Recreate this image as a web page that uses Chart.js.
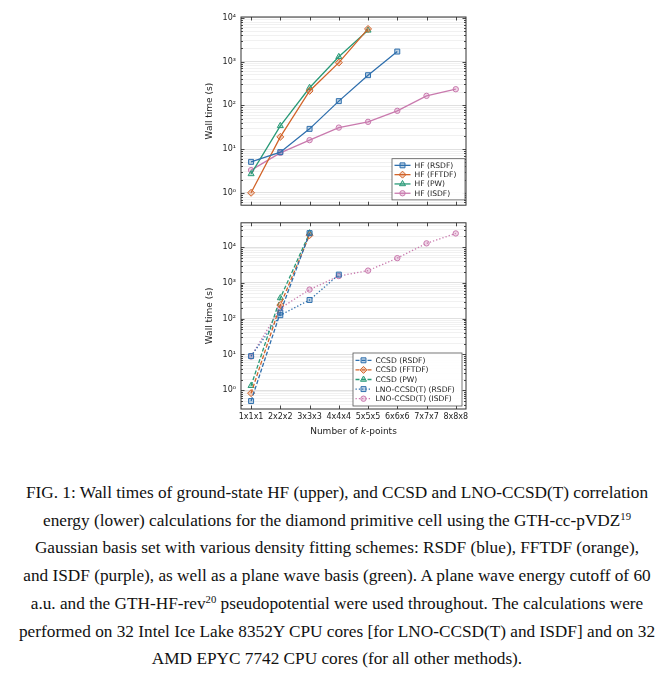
<!DOCTYPE html>
<html>
<head>
<meta charset="utf-8">
<script src="https://cdn.jsdelivr.net/npm/chart.js@4.4.0/dist/chart.umd.min.js"></script>
<style>
  body { margin: 0; background: #fff; width: 660px; height: 680px; position: relative; overflow: hidden; }
  #topChart { position: absolute; left: 0; top: 0; }
  #bottomChart { position: absolute; left: 0; top: 213px; }
  #caption { position: absolute; left: 7px; top: 479px; width: 660px; text-align: center;
    font-family: "Liberation Serif", "DejaVu Serif", serif; font-size: 16px; line-height: 27.7px; color: #111; }
  #caption span { white-space: nowrap; }
  #caption sup { font-size: 0.62em; line-height: 0; vertical-align: 0.55em; }
</style>
</head>
<body>
<canvas id="topChart" width="660" height="215"></canvas>
<canvas id="bottomChart" width="660" height="240"></canvas>
<div id="caption">
  <span id="firstLine">FIG. 1: Wall times of ground-state HF (upper), and CCSD and LNO-CCSD(T) correlation</span><br>
  <span>energy (lower) calculations for the diamond primitive cell using the GTH-cc-pVDZ<sup>19</sup></span><br>
  <span>Gaussian basis set with various density fitting schemes: RSDF (blue), FFTDF (orange),</span><br>
  <span>and ISDF (purple), as well as a plane wave basis (green). A plane wave energy cutoff of 60</span><br>
  <span>a.u. and the GTH-HF-rev<sup>20</sup> pseudopotential were used throughout. The calculations were</span><br>
  <span>performed on 32 Intel Ice Lake 8352Y CPU cores [for LNO-CCSD(T) and ISDF] and on 32</span><br>
  <span>AMD EPYC 7742 CPU cores (for all other methods).</span>
</div>
<script>
// k-point meshes (shared x axis)
const kLabels = ['1x1x1', '2x2x2', '3x3x3', '4x4x4', '5x5x5', '6x6x6', '7x7x7', '8x8x8'];

// HF wall times (s), upper panel
const hfRsdf = [5.1, 8.5, 29, 125, 490, 1700];
const hfFftdf = [1.0, 19, 214, 950, 5600];
const hfPw = [2.7, 34, 253, 1290, 5200];
const hfIsdf = [3.3, 8.2, 16, 31, 42, 75, 165, 234];

// correlated wall times (s), lower panel
const ccsdRsdf = [0.5, 148, 24500];
const ccsdFftdf = [0.83, 240, 21500];
const ccsdPw = [1.34, 378, 24500];
const lnoRsdf = [9.0, 125, 333, 1700];
const lnoIsdf = [8.8, 195, 650, 1550, 2200, 4900, 12700, 24000];

const blue = '#2f6fad', orange = '#d2642a', green = '#2a9a78', pink = '#c97aae';
const SUP = '⁰¹²³⁴⁵⁶⁷⁸⁹';
const FONT = 'DejaVu Sans';

function isDecade(v) {
  if (!v || v <= 0) return false;
  const l = Math.log10(v);
  return Math.abs(l - Math.round(l)) < 1e-9;
}

function logTicks(min, max) {
  const out = [];
  for (let e = Math.floor(Math.log10(min)); e <= Math.ceil(Math.log10(max)); e++) {
    for (let m = 1; m < 10; m++) {
      const v = m * Math.pow(10, e);
      if (v > min && v < max) out.push(v);
    }
  }
  return out;
}

function fade(hex) {
  const n = parseInt(hex.slice(1), 16);
  return `rgba(${n >> 16},${(n >> 8) & 255},${n & 255},0.3)`;
}

function series(label, values, color, marker, dash) {
  return {
    label: label,
    data: values.map((v, i) => ({ x: i, y: v })),
    borderColor: color,
    backgroundColor: fade(color),
    borderWidth: 1.3,
    borderDash: dash,
    pointStyle: marker,
    pointRadius: marker === 'circle' ? 2.7 : 3.5,
    pointBorderWidth: 1,
    pointBackgroundColor: fade(color),
    pointBorderColor: color,
    tension: 0,
    fill: false
  };
}

function xScale(showLabels) {
  return {
    type: 'linear',
    min: -0.345,
    max: 7.35,
    afterBuildTicks: s => { s.ticks = kLabels.map((_, i) => ({ value: i })); },
    afterFit: s => { s.height = showLabels ? 44 : 0; },
    grid: { display: false, drawTicks: false },
    border: { display: false },
    ticks: {
      display: showLabels, autoSkip: false, maxRotation: 0, padding: 3.5,
      color: '#222', font: { family: FONT, size: 8 },
      callback: v => kLabels[v] || ''
    }
  };
}

function yScale(min, max) {
  return {
    type: 'logarithmic',
    min: min,
    max: max,
    afterBuildTicks: s => { s.ticks = logTicks(min, max).map(v => ({ value: v })); },
    afterFit: s => { s.width = 41; },
    grid: {
      drawTicks: false,
      lineWidth: 0.8,
      color: ctx => (ctx.tick && isDecade(ctx.tick.value)) ? '#d8d8d8' : '#eeeeee'
    },
    border: { display: false },
    ticks: {
      autoSkip: false, padding: 5, color: '#222', font: { family: FONT, size: 8 },
      callback: v => isDecade(v) ? '10' + SUP[Math.round(Math.log10(v))] : ''
    },
    title: {
      display: true, text: 'Wall time (s)', color: '#222',
      font: { family: FONT, size: 9 }, padding: { top: 4, bottom: 0 }
    }
  };
}

// axes frame with inward ticks on all four sides
const framePlugin = {
  id: 'frame',
  afterDraw(chart) {
    const { ctx, chartArea: a } = chart;
    const x = chart.scales.x, y = chart.scales.y;
    ctx.save();
    ctx.strokeStyle = '#333';
    ctx.lineWidth = 0.9;
    ctx.beginPath();
    x.ticks.forEach(t => {
      const px = Math.round(x.getPixelForValue(t.value)) + 0.5;
      ctx.moveTo(px, a.bottom); ctx.lineTo(px, a.bottom - 3.5);
      ctx.moveTo(px, a.top); ctx.lineTo(px, a.top + 3.5);
    });
    y.ticks.forEach(t => {
      const py = Math.round(y.getPixelForValue(t.value)) + 0.5;
      const len = isDecade(t.value) ? 3.5 : 2;
      ctx.moveTo(a.left, py); ctx.lineTo(a.left + len, py);
      ctx.moveTo(a.right, py); ctx.lineTo(a.right - len, py);
    });
    ctx.stroke();
    ctx.lineWidth = 1;
    ctx.strokeRect(a.left, a.top, a.right - a.left, a.bottom - a.top);
    ctx.restore();
  }
};

// boxed legend in lower right with line + marker samples
const boxLegend = {
  id: 'boxLegend',
  afterDraw(chart, args, opts) {
    const { ctx, chartArea: a } = chart;
    const sets = chart.data.datasets;
    const w = opts.width, rowH = opts.rowHeight, padV = opts.padV;
    const h = sets.length * rowH + 2 * padV;
    const bx = a.right - opts.right - w, by = a.bottom - opts.bottom - h;
    ctx.save();
    ctx.fillStyle = 'rgba(255,255,255,0.92)';
    ctx.fillRect(bx, by, w, h);
    ctx.strokeStyle = '#555';
    ctx.lineWidth = 0.8;
    ctx.strokeRect(bx, by, w, h);
    ctx.font = opts.fontSize + 'px "' + FONT + '"';
    ctx.textBaseline = 'middle';
    sets.forEach((d, i) => {
      const cy = by + padV + rowH * (i + 0.5);
      const x0 = bx + 2.5, x1 = x0 + 16;
      ctx.strokeStyle = d.borderColor;
      ctx.lineWidth = d.borderWidth;
      ctx.setLineDash(d.borderDash || []);
      ctx.beginPath(); ctx.moveTo(x0, cy); ctx.lineTo(x1, cy); ctx.stroke();
      ctx.setLineDash([]);
      ctx.fillStyle = d.pointBackgroundColor;
      ctx.lineWidth = 1;
      Chart.helpers.drawPoint(ctx, { pointStyle: d.pointStyle, radius: d.pointRadius, borderWidth: 1, rotation: 0 }, (x0 + x1) / 2, cy);
      ctx.fillStyle = '#222';
      ctx.fillText(d.label, x1 + 4, cy + 0.5);
    });
    ctx.restore();
  }
};

// x title with italic k
const xTitle = {
  id: 'xTitle',
  afterDraw(chart) {
    const { ctx, chartArea: a } = chart;
    const parts = [['Number of ', ''], ['k', 'italic '], ['-points', '']];
    ctx.save();
    ctx.fillStyle = '#222';
    ctx.textBaseline = 'middle';
    let total = 0;
    parts.forEach(p => { ctx.font = p[1] + '9px "' + FONT + '"'; total += ctx.measureText(p[0]).width; });
    let cx = (a.left + a.right) / 2 - total / 2;
    parts.forEach(p => {
      ctx.font = p[1] + '9px "' + FONT + '"';
      ctx.fillText(p[0], cx, a.bottom + 23);
      cx += ctx.measureText(p[0]).width;
    });
    ctx.restore();
  }
};

function initializeCharts() {
  new Chart(document.getElementById('topChart'), {
    type: 'line',
    data: {
      datasets: [
        series('HF (RSDF)', hfRsdf, blue, 'rect', []),
        series('HF (FFTDF)', hfFftdf, orange, 'rectRot', []),
        series('HF (PW)', hfPw, green, 'triangle', []),
        series('HF (ISDF)', hfIsdf, pink, 'circle', [])
      ]
    },
    options: {
      responsive: false,
      animation: false,
      layout: { padding: { left: 200, right: 194, top: 17, bottom: 7 } },
      scales: { x: xScale(false), y: yScale(0.52, 10500) },
      plugins: {
        legend: { display: false },
        tooltip: { enabled: false },
        boxLegend: { width: 73, rowHeight: 9.3, padV: 2, right: 1, bottom: 5.3, fontSize: 7.6 }
      }
    },
    plugins: [framePlugin, boxLegend]
  });

  new Chart(document.getElementById('bottomChart'), {
    type: 'line',
    data: {
      datasets: [
        series('CCSD (RSDF)', ccsdRsdf, blue, 'rect', [4, 2]),
        series('CCSD (FFTDF)', ccsdFftdf, orange, 'rectRot', [4, 2]),
        series('CCSD (PW)', ccsdPw, green, 'triangle', [4, 2]),
        series('LNO-CCSD(T) (RSDF)', lnoRsdf, blue, 'rect', [1.3, 2]),
        series('LNO-CCSD(T) (ISDF)', lnoIsdf, pink, 'circle', [1.3, 2])
      ]
    },
    options: {
      responsive: false,
      animation: false,
      layout: { padding: { left: 200, right: 194, top: 4.7, bottom: 0 } },
      scales: { x: xScale(true), y: yScale(0.31, 47600) },
      plugins: {
        legend: { display: false },
        tooltip: { enabled: false },
        boxLegend: { width: 109, rowHeight: 9.6, padV: 2.5, right: 4, bottom: 3, fontSize: 7.6 }
      }
    },
    plugins: [framePlugin, boxLegend, xTitle]
  });
}

// stretch caption font so the first line spans the same width as the reference
function fitCaption() {
  const first = document.getElementById('firstLine');
  const w = first.getBoundingClientRect().width;
  const cap = document.getElementById('caption');
  cap.style.fontSize = (16 * 622 / w).toFixed(2) + 'px';
}

window.onload = function() {
  fitCaption();
  initializeCharts();
};
</script>
</body>
</html>
